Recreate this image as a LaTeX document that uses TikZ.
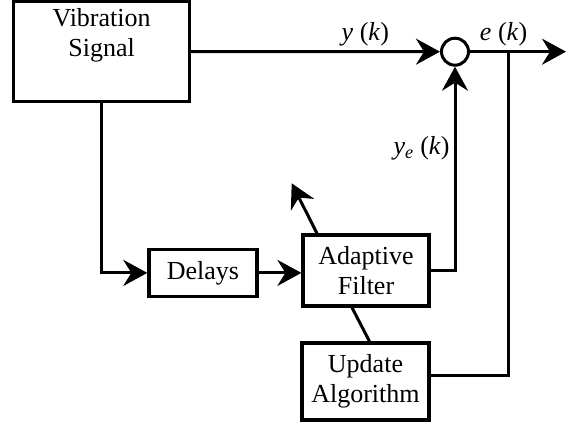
\documentclass[tikz,border=0pt]{standalone}
\usepackage{fontspec}
\setmainfont{Liberation Serif}
\usetikzlibrary{arrows.meta}
\begin{document}
\begin{tikzpicture}[x=1pt, y=1pt, font=\fontsize{26}{30}\selectfont,
          >={Stealth[length=24pt, width=26pt, inset=8pt]},
          blk/.style={draw, line width=3.2pt, align=center, inner sep=2pt},
          sig/.style={->, line width=3pt},
          wire/.style={line width=3pt},
          lab/.style={inner sep=4pt}]
        \useasboundingbox (0,0) rectangle (567,425);
        \node[blk, minimum width=176pt, minimum height=100pt] (vib) at (101.6,373.5) {Vibration\\Signal\\\strut};
        \node[blk, minimum width=108pt, minimum height=47pt] (dly) at (202.9,152.1) {Delays};
        \node[blk, minimum width=126pt, minimum height=71pt] (af) at (366,154.5) {Adaptive\\Filter};
        \node[blk, minimum width=127pt, minimum height=77pt] (upd) at (365.5,43.5) {Update\\Algorithm};
        \node[draw, circle, line width=3pt, minimum size=27pt, inner sep=0pt] (sum) at (455,373.3) {};
        \coordinate (out) at (566,373.3);
        \coordinate (tap) at (508,373.3);
        \coordinate (adj) at (291.7,241.7);
        \draw[sig] (vib) -- node[lab, above, pos=0.7] {\textit{y} (\textit{k})} (sum);
        \draw[sig] (sum) -- node[lab, above, pos=0.35] {\textit{e} (\textit{k})} (out);
        \draw[sig] (vib.south) |- (dly.west);
        \draw[sig] (dly.east) -- (dly.east -| af.west);
        \draw[sig] (af.east) -| node[lab, left, pos=0.8] {\textit{y}\textsubscript{\textit{e}} (\textit{k})} (sum.south);
        \draw[sig] ([xshift=-49pt]af.north) -- (adj);
        \draw[wire] ([xshift=-14pt]af.south) -- ([xshift=4pt]upd.north);
        \draw[wire] (tap) |- ([yshift=6pt]upd.east);
      \end{tikzpicture}
\end{document}
